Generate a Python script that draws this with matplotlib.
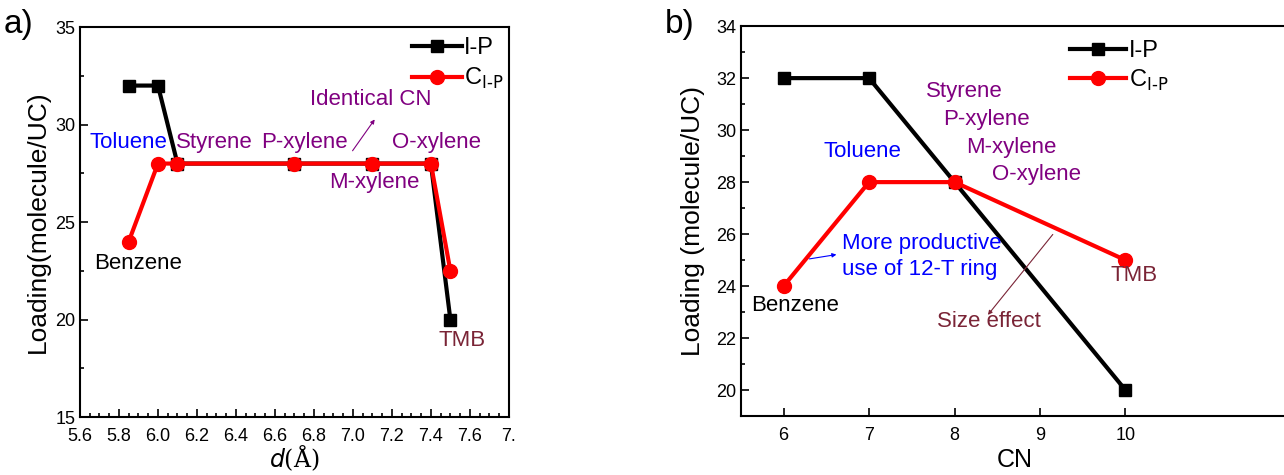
import matplotlib.pyplot as plt
from matplotlib.ticker import MultipleLocator

plt.rcParams['font.family'] = ['Liberation Sans', 'DejaVu Sans']

# panel a: pore-size axis
d_ip = [5.85, 6.0, 6.1, 6.7, 7.1, 7.4, 7.5]
load_ip_a = [32, 32, 28, 28, 28, 28, 20]
d_c = [5.85, 6.0, 6.1, 6.7, 7.1, 7.4, 7.5]
load_c_a = [24, 28, 28, 28, 28, 28, 22.5]

# panel b: carbon number axis
cn = [6, 7, 8, 10]
load_ip_b = [32, 32, 28, 20]
load_c_b = [24, 28, 28, 25]

PURPLE = '#800080'
BLUE = '#0000ff'
DRED = '#7a2436'
FS = 16
C_LABEL = 'C$_{\\mathrm{I}\\text{-}\\mathrm{P}}$'


def style(ax):
    ax.tick_params(direction='in', which='both', labelsize=13, width=1.2)
    ax.tick_params(which='major', length=6)
    ax.tick_params(which='minor', length=3)
    ax.tick_params(axis='x', pad=8)
    for s in ax.spines.values():
        s.set_linewidth(1.5)


def main():
    fig = plt.figure(figsize=(12.84, 4.75), dpi=100)

    # ---- a) ----
    ax = fig.add_axes([0.0623, 0.122, 0.334, 0.821])
    ax.plot(d_ip, load_ip_a, color='black', marker='s', ms=9, lw=3, label='I-P')
    ax.plot(d_c, load_c_a, color='red', marker='o', ms=10, lw=3, label=C_LABEL)
    ax.set_xlim(5.6, 7.8)
    ax.set_ylim(15, 35)
    ax.xaxis.set_minor_locator(MultipleLocator(0.05))
    ax.yaxis.set_major_locator(MultipleLocator(5))
    ax.yaxis.set_minor_locator(MultipleLocator(2.5))
    ax.set_xticks([5.6, 5.8, 6.0, 6.2, 6.4, 6.6, 6.8, 7.0, 7.2, 7.4, 7.6, 7.8])
    ax.set_xticklabels(['5.6', '5.8', '6.0', '6.2', '6.4', '6.6', '6.8', '7.0',
                        '7.2', '7.4', '7.6', '7.'])
    style(ax)
    ax.set_xlabel('$d$(\u00c5)', fontsize=17, labelpad=-1, family=['DejaVu Serif'])
    ax.set_ylabel('Loading(molecule/UC)', fontsize=19, labelpad=4)
    ax.legend(loc='upper left', bbox_to_anchor=(0.775, 0.975), frameon=False, fontsize=17,
              handlelength=2.1, handletextpad=0.1, borderaxespad=0, borderpad=0,
              labelspacing=0.3)

    ax.text(5.85, 29.1, 'Toluene', color=BLUE, fontsize=FS, ha='center', va='center')
    ax.text(6.29, 29.1, 'Styrene', color=PURPLE, fontsize=FS, ha='center', va='center')
    ax.text(6.75, 29.1, 'P-xylene', color=PURPLE, fontsize=FS, ha='center', va='center')
    ax.text(7.43, 29.1, 'O-xylene', color=PURPLE, fontsize=FS, ha='center', va='center')
    ax.text(7.11, 27.05, 'M-xylene', color=PURPLE, fontsize=FS, ha='center', va='center')
    ax.text(5.90, 22.9, 'Benzene', color='black', fontsize=FS, ha='center', va='center')
    ax.text(7.56, 18.95, 'TMB', color=DRED, fontsize=FS, ha='center', va='center')
    ax.text(7.09, 31.3, 'Identical CN', color=PURPLE, fontsize=FS, ha='center', va='center')
    ax.annotate('', xy=(7.12, 30.38), xytext=(6.99, 28.54),
                arrowprops=dict(arrowstyle='-|>', color=PURPLE, lw=0.8, mutation_scale=6))
    fig.text(0.003, 0.93, 'a)', fontsize=24)

    # ---- b) ----
    bx = fig.add_axes([0.577, 0.124, 0.426, 0.821])
    bx.plot(cn, load_ip_b, color='black', marker='s', ms=9, lw=3, label='I-P')
    bx.plot(cn, load_c_b, color='red', marker='o', ms=10, lw=3, label=C_LABEL)
    bx.set_xlim(5.5, 11.9)
    bx.set_ylim(19, 34)
    bx.set_xticks([6, 7, 8, 9, 10])
    bx.yaxis.set_major_locator(MultipleLocator(2))
    bx.yaxis.set_minor_locator(MultipleLocator(1))
    style(bx)
    bx.set_xlabel('CN', fontsize=18, labelpad=3)
    bx.set_ylabel('Loading (molecule/UC)', fontsize=19, labelpad=8)
    bx.legend(loc='upper left', bbox_to_anchor=(0.601, 0.965), frameon=False, fontsize=17,
              handlelength=2.4, handletextpad=0.1, borderaxespad=0, borderpad=0,
              labelspacing=0.25)

    bx.text(8.12, 31.47, 'Styrene', color=PURPLE, fontsize=FS, ha='center', va='center')
    bx.text(8.37, 30.4, 'P-xylene', color=PURPLE, fontsize=FS, ha='center', va='center')
    bx.text(8.67, 29.33, 'M-xylene', color=PURPLE, fontsize=FS, ha='center', va='center')
    bx.text(8.96, 28.3, 'O-xylene', color=PURPLE, fontsize=FS, ha='center', va='center')
    bx.text(6.92, 29.17, 'Toluene', color=BLUE, fontsize=FS, ha='center', va='center')
    bx.text(6.68, 25.15, 'More productive\nuse of 12-T ring', color=BLUE, fontsize=FS,
            ha='left', va='center', linespacing=1.3)
    bx.annotate('', xy=(6.65, 25.23), xytext=(6.27, 25.03),
                arrowprops=dict(arrowstyle='-|>', color=BLUE, lw=0.8, mutation_scale=6))
    bx.text(6.13, 23.27, 'Benzene', color='black', fontsize=FS, ha='center', va='center')
    bx.text(10.1, 24.42, 'TMB', color=DRED, fontsize=FS, ha='center', va='center')
    bx.text(8.40, 22.62, 'Size effect', color=DRED, fontsize=FS, ha='center', va='center')
    bx.annotate('', xy=(8.37, 22.81), xytext=(9.17, 26.07),
                arrowprops=dict(arrowstyle='-|>', color=DRED, lw=0.8, mutation_scale=6))
    fig.text(0.518, 0.93, 'b)', fontsize=24)

    fig.savefig('out.png', dpi=100)


if __name__ == "__main__":
    main()
